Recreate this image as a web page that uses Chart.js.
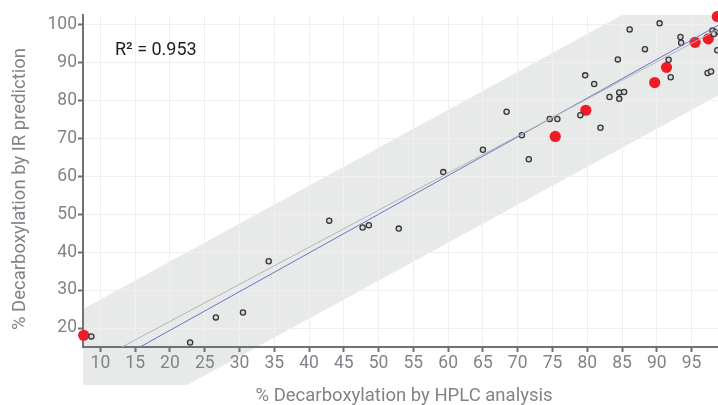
<!DOCTYPE html>
<html>
<head>
<meta charset="utf-8">
<script src="https://cdn.jsdelivr.net/npm/chart.js@4/dist/chart.umd.min.js"></script>
<style>
  html, body { margin: 0; padding: 0; background: #ffffff; }
  #c { display: block; }
</style>
</head>
<body>
<canvas id="c" width="718" height="405"></canvas>
<script>
// Tick positions on both axes
const xTicks = [10, 15, 20, 25, 30, 35, 40, 45, 50, 55, 60, 65, 70, 75, 80, 85, 90, 95];
const yTicks = [20, 30, 40, 50, 60, 70, 80, 90, 100];

// Axis titles
const xTitle = '% Decarboxylation by HPLC analysis';
const yTitle = '% Decarboxylation by IR prediction';

// Calibration samples: HPLC reference value vs IR prediction
const hplcSamples = [8.7, 22.9, 26.6, 30.5, 34.2, 42.9, 47.7, 48.6, 52.9, 59.3,
  65.0, 68.4, 70.6, 71.6, 74.6, 75.7, 79.0, 81.9, 79.7, 81.0,
  83.2, 84.4, 84.6, 85.3, 84.6, 86.1, 90.4, 88.3, 91.7, 92.0,
  93.4, 93.5, 98.0, 98.5, 98.2, 98.7, 97.3, 97.8];
const irSamples = [17.8, 16.2, 22.8, 24.1, 37.6, 48.3, 46.5, 47.1, 46.2, 61.1,
  67.0, 77.0, 70.8, 64.5, 75.1, 75.1, 76.1, 72.8, 86.6, 84.3,
  80.9, 90.8, 82.1, 82.2, 80.4, 98.7, 100.3, 93.5, 90.7, 86.1,
  96.7, 95.2, 98.4, 98.0, 97.5, 93.2, 87.2, 87.6];

// Validation samples (highlighted)
const hplcValidation = [7.6, 75.4, 79.8, 89.7, 91.4, 95.5, 97.4, 98.7];
const irValidation = [18.1, 70.5, 77.4, 84.7, 88.7, 95.3, 96.2, 102.1];

// Reference line and regression line end points
const refLineX = [13.1, 98.8];
const refLineY = [15.0, 98.75];
const fitLineX = [15.7, 98.8];
const fitLineY = [15.0, 99.77];

// Tolerance band outline (HPLC, IR)
const bandX = [7.5, 7.5, 85.0, 98.8, 98.8, 22.5];
const bandY = [5.0, 25.0, 102.5, 102.5, 81.3, 5.0];

const axisColor = '#6e7176';
const labelColor = '#808388';
const gridColor = '#efeff0';

const toPoints = (xs, ys) => xs.map((x, i) => ({ x: x, y: ys[i] }));

// Shaded tolerance band, drawn beneath the grid
const bandPlugin = {
  id: 'toleranceBand',
  beforeDraw(chart) {
    const { ctx, scales: { x, y } } = chart;
    ctx.save();
    ctx.beginPath();
    bandX.forEach((v, i) => {
      const px = x.getPixelForValue(v);
      const py = y.getPixelForValue(bandY[i]);
      if (i === 0) ctx.moveTo(px, py); else ctx.lineTo(px, py);
    });
    ctx.closePath();
    ctx.fillStyle = '#e8e9e9';
    ctx.fill();
    ctx.restore();
  }
};

// Axis titles and the coefficient of determination label
const textPlugin = {
  id: 'chartTexts',
  afterDatasetsDraw(chart) {
    const { ctx, chartArea } = chart;
    ctx.save();
    ctx.font = '18.5px Roboto';
    ctx.fillStyle = labelColor;
    ctx.textAlign = 'center';
    ctx.textBaseline = 'middle';
    ctx.fillText(xTitle, chartArea.left + (chartArea.right - chartArea.left) / 2 + 3.5, 396);
    ctx.translate(20.5, 189);
    ctx.rotate(-Math.PI / 2);
    ctx.fillText(yTitle, 0, 0);
    ctx.restore();

    ctx.save();
    ctx.font = '18px Roboto';
    ctx.fillStyle = '#1e1e1e';
    ctx.textBaseline = 'alphabetic';
    ctx.textAlign = 'left';
    ctx.fillText('R² = 0.953', chartArea.left + 32, chartArea.top + 40);
    ctx.restore();
  }
};

Chart.defaults.font.family = 'Roboto';

new Chart(document.getElementById('c'), {
  type: 'scatter',
  data: {
    datasets: [
      {
        label: 'Reference',
        data: toPoints(refLineX, refLineY),
        showLine: true,
        borderColor: '#b4b4b4',
        borderWidth: 1,
        pointRadius: 0,
        fill: false
      },
      {
        label: 'Regression',
        data: toPoints(fitLineX, fitLineY),
        showLine: true,
        borderColor: '#6f6fca',
        borderWidth: 1,
        pointRadius: 0,
        fill: false
      },
      {
        label: 'Calibration',
        data: toPoints(hplcSamples, irSamples),
        pointRadius: 2.6,
        borderWidth: 1.3,
        borderColor: '#363636',
        backgroundColor: '#d6d6d6',
        clip: false
      },
      {
        label: 'Validation',
        data: toPoints(hplcValidation, irValidation),
        pointRadius: 5.6,
        borderWidth: 0,
        backgroundColor: '#ee1c25',
        clip: false
      }
    ]
  },
  options: {
    responsive: false,
    animation: false,
    layout: { autoPadding: false, padding: { top: 15, right: 0, bottom: 0, left: 0 } },
    plugins: {
      legend: { display: false },
      tooltip: { enabled: false }
    },
    scales: {
      x: {
        type: 'linear',
        min: 7.5,
        max: 98.8,
        afterBuildTicks: s => { s.ticks = xTicks.map(v => ({ value: v })); },
        afterFit: s => { s.height = 58; s.paddingLeft = 0; s.paddingRight = 0; },
        ticks: { color: labelColor, font: { size: 17.5 }, padding: 1, maxRotation: 0, autoSkip: false },
        grid: { color: gridColor, tickColor: axisColor, tickLength: 5, tickWidth: 2 },
        border: { color: axisColor, width: 2 },
        title: { display: false }
      },
      y: {
        type: 'linear',
        min: 15,
        max: 102.5,
        afterBuildTicks: s => { s.ticks = yTicks.map(v => ({ value: v })); },
        afterFit: s => { s.width = 83; s.paddingTop = 0; s.paddingBottom = 0; },
        ticks: { color: labelColor, font: { size: 17.5 }, padding: 1, autoSkip: false },
        grid: { color: gridColor, tickColor: axisColor, tickLength: 5, tickWidth: 2 },
        border: { color: axisColor, width: 2 },
        title: { display: false }
      }
    }
  },
  plugins: [bandPlugin, textPlugin]
});
</script>
</body>
</html>
